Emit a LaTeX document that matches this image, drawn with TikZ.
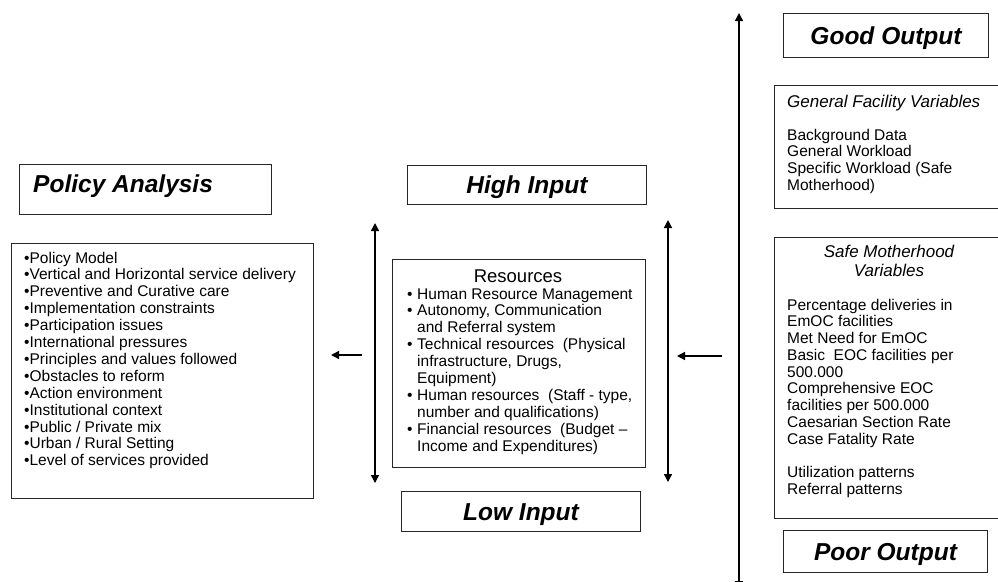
\documentclass[tikz,border=0pt]{standalone}
\usepackage{fontspec}
\setmainfont{Liberation Sans}
\usetikzlibrary{arrows.meta}
\begin{document}
\begin{tikzpicture}[x=1pt,y=-1pt,
  box/.style={draw=black!85, line width=1pt, inner sep=0pt, anchor=north west},
  title/.style={font=\fontsize{24.5}{26}\selectfont\bfseries\itshape, inner sep=0pt, text height=17.6pt, text depth=0pt},
  body/.style={font=\fontsize{15.5}{16.9}\selectfont, inner sep=0pt, align=left, anchor=base west},
  rbody/.style={font=\fontsize{15.5}{16.75}\selectfont, inner sep=0pt, align=left, anchor=base west},
  sub/.style={font=\fontsize{17}{19}\selectfont\itshape, inner sep=0pt},
  arr/.style={line width=1.4pt, -{Triangle[length=8pt,width=8pt]}},
  darr/.style={line width=1.4pt, {Triangle[length=8pt,width=8pt]}-{Triangle[length=8pt,width=8pt]}},
]
\useasboundingbox[fill=white] (0,0) rectangle (998,581);

% left column (multi-line nodes are placed by the baseline of their last line)
\node[box, minimum width=252pt, minimum height=50pt] (pabox) at (19,164) {};
\node[title, anchor=base west] (patext) at (33,192) {Policy Analysis};
\node[box, minimum width=302pt, minimum height=255pt] (listbox) at (11,243) {};
\node[body] (list) at (24,465.8) {\textbullet Policy Model\\
\textbullet Vertical and Horizontal service delivery\\
\textbullet Preventive and Curative care\\
\textbullet Implementation constraints\\
\textbullet Participation issues\\
\textbullet International pressures\\
\textbullet Principles and values followed\\
\textbullet Obstacles to reform\\
\textbullet Action environment\\
\textbullet Institutional context\\
\textbullet Public / Private mix\\
\textbullet Urban / Rural Setting\\
\textbullet Level of services provided};

% centre column
\node[box, title, minimum width=239pt, minimum height=39pt] (hi) at (407,165) {High Input};
\node[box, minimum width=253pt, minimum height=208pt] (resbox) at (392,259) {};
\node[font=\fontsize{18.5}{20}\selectfont, anchor=base, inner sep=0pt] (reshead) at (518,282) {Resources};
\node[body] (reslist) at (407,451.1) {\makebox[10pt][l]{\textbullet}Human Resource Management\\
\makebox[10pt][l]{\textbullet}Autonomy, Communication\\
\hspace*{10pt}and Referral system\\
\makebox[10pt][l]{\textbullet}Technical resources\ \ (Physical\\
\hspace*{10pt}infrastructure, Drugs,\\
\hspace*{10pt}Equipment)\\
\makebox[10pt][l]{\textbullet}Human resources\ \ (Staff - type,\\
\hspace*{10pt}number and qualifications)\\
\makebox[10pt][l]{\textbullet}Financial resources\ \ (Budget --\\
\hspace*{10pt}Income and Expenditures)};
\node[box, title, minimum width=239pt, minimum height=40pt] (lo) at (401,491) {Low Input};

% right column
\node[box, title, minimum width=205pt, minimum height=44pt] (good) at (783,13) {Good Output};
\node[box, minimum width=224pt, minimum height=123pt] (gfbox) at (774,85) {};
\node[sub, anchor=base west] (gfhead) at (787,107) {General Facility Variables};
\node[rbody] (gflist) at (787,190.25) {Background Data\\
General Workload\\
Specific Workload (Safe\\
Motherhood)};
\node[box, minimum width=224pt, minimum height=281pt] (smbox) at (774,237) {};
\node[sub, anchor=base, align=center] (smhead) at (889,276) {Safe Motherhood\\Variables};
\node[rbody] (smlist) at (787,494.25) {Percentage deliveries in\\
EmOC facilities\\
Met Need for EmOC\\
Basic\ \ EOC facilities per\\
500.000\\
Comprehensive EOC\\
facilities per 500.000\\
Caesarian Section Rate\\
Case Fatality Rate\\[16.75pt]
Utilization patterns\\
Referral patterns};
\node[box, title, minimum width=204pt, minimum height=42pt] (poor) at (783,530) {Poor Output};

% arrows
\coordinate (la1) at (362,355);
\coordinate (la2) at (331,355);
\draw[arr] (la1) -- (la2);
\coordinate (ra1) at (722,356);
\coordinate (ra2) at (677,356);
\draw[arr] (ra1) -- (ra2);
\coordinate (lv1) at (375,223);
\coordinate (lv2) at (375,483);
\draw[darr] (lv1) -- (lv2);
\coordinate (rv1) at (668,220);
\coordinate (rv2) at (668,482);
\draw[darr] (rv1) -- (rv2);
\coordinate (ov1) at (739,13);
\coordinate (ov2) at (739,589);
\draw[darr] (ov1) -- (ov2);
\end{tikzpicture}
\end{document}
